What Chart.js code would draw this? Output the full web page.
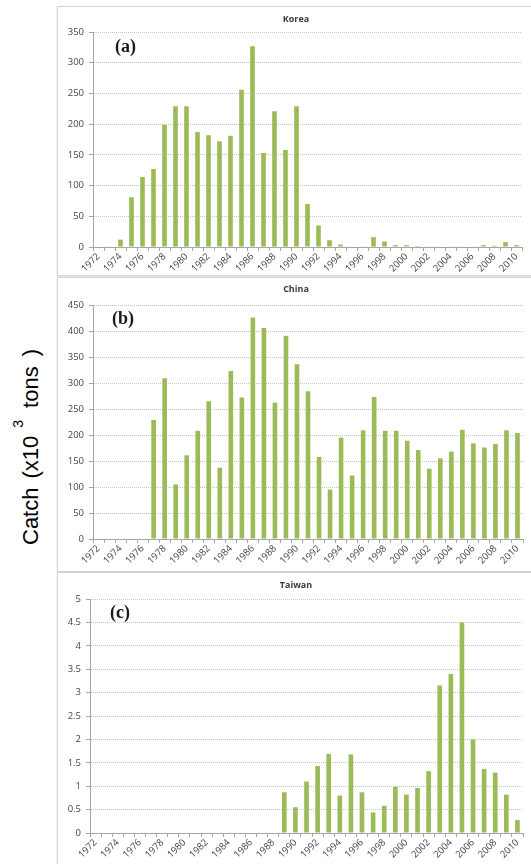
<!DOCTYPE html>
<html>
<head>
<meta charset="utf-8">
<script src="https://cdn.jsdelivr.net/npm/chart.js@4/dist/chart.umd.min.js"></script>
<style>
  body { margin: 0; background: #fff; width: 531px; height: 864px; overflow: hidden; position: relative; }
  .panel { position: absolute; left: 57px; border: 1px solid #d4d4d4; background: #fff; box-shadow: 0 1px 2px rgba(0,0,0,0.12); }
  .panel canvas { display: block; }
  #ylab {
    position: absolute; left: 32px; top: 447px;
    transform: translate(-50%, -50%) rotate(-90deg);
    white-space: nowrap; font-family: "Liberation Sans", Arial, sans-serif; font-size: 22px; color: #000;
    line-height: 26px;
  }
  #ylab span { display: inline-block; }
  #ylab .sup { font-size: 14px; position: relative; top: -15px; }
</style>
</head>
<body>
<div id="ylab"><span>Catch</span><span style="margin-left:9px">(x10</span><span class="sup" style="margin-left:8px">3</span><span style="margin-left:12px">tons</span><span style="margin-left:10px">)</span></div>
<div class="panel" style="top:6px"><canvas id="cKorea" width="473" height="268"></canvas></div>
<div class="panel" style="top:277px"><canvas id="cChina" width="473" height="293"></canvas></div>
<div class="panel" style="top:572px"><canvas id="cTaiwan" width="473" height="300"></canvas></div>
<script>
// Years on the category axis
const years = ['1972','1973','1974','1975','1976','1977','1978','1979','1980','1981',
  '1982','1983','1984','1985','1986','1987','1988','1989','1990','1991',
  '1992','1993','1994','1995','1996','1997','1998','1999','2000','2001',
  '2002','2003','2004','2005','2006','2007','2008','2009','2010'];

// Annual catch (x10^3 tons)
const korea = [0, 1, 12, 81, 114, 127, 199, 229, 229, 187,
  182, 172, 181, 256, 327, 153, 221, 158, 229, 70,
  35, 11, 4, 1, 1, 16, 9, 3, 3, 1.5,
  1, 1, 1, 1, 1, 3, 2, 8, 3];

const china = [null, null, null, null, null, 229, 309, 105, 161, 208,
  265, 137, 323, 272, 426, 406, 262, 391, 336, 284,
  158, 95, 195, 122, 209, 273, 208, 208, 189, 171,
  135, 155, 168, 210, 184, 176, 183, 209, 204];

const taiwan = [null, null, null, null, null, null, null, null, null, null,
  null, null, null, null, null, null, null, 0.87, 0.55, 1.1,
  1.43, 1.69, 0.8, 1.68, 0.87, 0.44, 0.58, 0.99, 0.82, 0.96,
  1.32, 3.15, 3.4, 4.5, 2.0, 1.37, 1.29, 0.82, 0.28];

// Y-axis ranges per panel
const koreaTicks = { max: 350, step: 50 };
const chinaTicks = { max: 450, step: 50 };
const taiwanTicks = { max: 5, step: 0.5 };

const BAR = '#9bbb59';
const AXIS = '#a6a6a6';
const TICKTXT = '#454545';
const xTickFont = { family: '"Open Sans", "DejaVu Sans", sans-serif', size: 9.5 };
const yTickFont = { family: '"Open Sans", "DejaVu Sans", sans-serif', size: 9.5 };

// Panel heading and the (a)/(b)/(c) tag
const panelText = {
  id: 'panelText',
  afterDraw(chart, args, o) {
    const ctx = chart.ctx;
    ctx.save();
    ctx.fillStyle = '#3a3a3a';
    ctx.font = 'bold 9px "Open Sans", "DejaVu Sans", sans-serif';
    ctx.textAlign = 'center';
    ctx.textBaseline = 'middle';
    ctx.fillText(o.title, o.titleX, o.titleY);
    ctx.fillStyle = '#1b1b1b';
    ctx.font = 'bold 18px "Liberation Serif", "DejaVu Serif", serif';
    ctx.textAlign = 'left';
    ctx.fillText(o.tag, o.tagX, o.tagY);
    ctx.restore();
  }
};

function makeChart(id, data, ticks, cfg) {
  new Chart(document.getElementById(id), {
    type: 'bar',
    data: {
      labels: years,
      datasets: [{ data: data, backgroundColor: BAR, barPercentage: 0.42, categoryPercentage: 1.0 }]
    },
    options: {
      responsive: false,
      animation: false,
      layout: { padding: { top: cfg.top, right: cfg.right, left: 0, bottom: 0 } },
      plugins: {
        legend: { display: false },
        tooltip: { enabled: false },
        title: { display: false },
        panelText: { title: cfg.title, titleX: 238, titleY: cfg.titleY, tag: cfg.tag, tagX: cfg.tagX, tagY: cfg.tagY }
      },
      scales: {
        x: {
          afterFit(s) { s.height = cfg.xh; },
          grid: { offset: true, drawOnChartArea: false, drawTicks: true, tickLength: 4, color: AXIS, tickColor: AXIS },
          border: { display: true, color: AXIS, width: 1 },
          ticks: {
            autoSkip: false, minRotation: 45, maxRotation: 45, padding: 0,
            color: TICKTXT, font: xTickFont,
            callback: (v, i) => (i % 2 === 0 ? years[i] : '')
          }
        },
        y: {
          min: 0, max: ticks.max,
          afterFit(s) { s.width = cfg.yw; },
          grid: { color: '#c4c4c4', lineWidth: 1, drawTicks: true, tickLength: 4, tickColor: AXIS },
          border: { display: true, color: AXIS, width: 1, dash: [1, 1] },
          ticks: { stepSize: ticks.step, padding: 5, color: TICKTXT, font: yTickFont, callback: v => String(v) }
        }
      }
    },
    plugins: [panelText]
  });
}

makeChart('cKorea', korea, koreaTicks,
  { top: 25, right: 9, xh: 28, yw: 35, title: 'Korea', titleY: 12, tag: '(a)', tagX: 57, tagY: 40 });
makeChart('cChina', china, chinaTicks,
  { top: 27, right: 8, xh: 32, yw: 35, title: 'China', titleY: 11, tag: '(b)', tagX: 54, tagY: 41 });
makeChart('cTaiwan', taiwan, taiwanTicks,
  { top: 26, right: 8, xh: 40, yw: 32, title: 'Taiwan', titleY: 12, tag: '(c)', tagX: 52, tagY: 40 });
</script>
</body>
</html>
